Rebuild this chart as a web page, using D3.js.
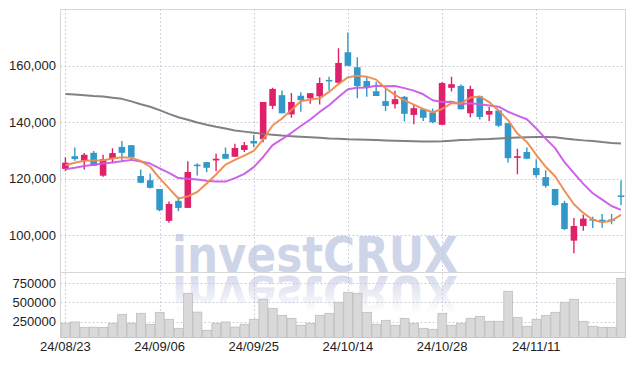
<!DOCTYPE html>
<html><head><meta charset="utf-8">
<script src="https://cdn.jsdelivr.net/npm/d3@7"></script>
<style>body{margin:0;background:#fff}svg{display:block}</style>
</head><body>
<svg id="c" width="634" height="366"></svg>
<script>
const dates = ["24/08/23","24/08/26","24/08/27","24/08/28","24/08/29","24/08/30","24/09/02","24/09/03","24/09/04","24/09/05",
"24/09/06","24/09/09","24/09/10","24/09/11","24/09/12","24/09/13","24/09/19","24/09/20","24/09/23","24/09/24",
"24/09/25","24/09/26","24/09/27","24/09/30","24/10/02","24/10/04","24/10/07","24/10/08","24/10/10","24/10/11",
"24/10/14","24/10/15","24/10/16","24/10/17","24/10/18","24/10/21","24/10/22","24/10/23","24/10/24","24/10/25",
"24/10/28","24/10/29","24/10/30","24/10/31","24/11/01","24/11/04","24/11/05","24/11/06","24/11/07","24/11/08",
"24/11/11","24/11/12","24/11/13","24/11/14","24/11/15","24/11/18","24/11/19","24/11/20","24/11/21","24/11/22"];
const tickDates = ["24/08/23","24/09/06","24/09/25","24/10/14","24/10/28","24/11/11"];
const priceTicks = [100000,120000,140000,160000];
const volumeTicks = [250000,500000,750000];

const open = [123500,128000,126400,129200,121100,127300,131300,131900,121000,119500,
116400,105100,112200,109700,125000,125900,126500,128800,127800,130200,
133400,134000,145800,149600,142800,149400,148500,149200,155000,154000,
164800,159500,154600,151000,147500,146400,149000,142600,144600,143500,
139100,152200,152900,143200,149200,142700,144200,139700,127400,129500,
123800,120600,116400,111400,98100,103300,105700,105500,105600,114100];
const high = [127600,131100,129100,129800,128500,130800,133400,131900,123300,121900,
116400,112000,113600,126200,125500,125900,128900,131100,132400,133000,
135500,147200,152200,151300,150400,150600,150300,155900,156100,166200,
171800,163000,156100,154300,152000,151200,149300,146300,144600,144900,
154300,156100,153400,152900,149300,145400,144200,139700,130600,131100,
126900,123000,116400,112200,106100,107300,106600,107500,107500,119500];
const low = [122700,126400,123300,124600,120700,125500,126300,126400,118400,116600,
108500,104400,108500,109700,121200,122300,122700,127100,127800,129500,
131200,132900,144700,143200,141600,143700,146600,146300,151300,153400,
160000,148500,149000,149300,144000,144900,140300,139300,140500,139700,
139000,150900,144600,141800,141000,140500,138300,125800,121600,127100,
120500,116800,110500,101900,93600,101600,102600,102700,103900,110600];
const close = [125700,127000,128500,124600,126900,129100,129200,127600,118600,116800,
108900,111100,109700,122400,124500,123900,127100,127100,130900,131900,
132500,147200,151800,143200,147200,147800,150300,153900,154600,161000,
160000,152800,152400,149300,145800,148200,143000,145000,141600,140000,
153900,153500,144600,151800,141900,144000,138800,127300,128000,127100,
121300,117500,110700,102200,103300,105900,105400,105100,105100,113600];
const volume = [229000,246000,177000,178000,176000,229000,346000,231000,359000,216000,
372000,281000,164000,620000,375000,138000,230000,246000,180000,216000,
281000,542000,424000,333000,294000,203000,229000,333000,359000,503000,
633000,620000,372000,216000,268000,203000,294000,229000,164000,151000,
359000,203000,229000,294000,320000,255000,255000,646000,307000,190000,
281000,333000,372000,503000,542000,255000,190000,177000,177000,815000];
const ma5 = [124800,125700,126400,126500,126540,127220,127660,127480,126280,124260,
120220,116600,113020,113780,115320,118320,121520,125000,126700,128180,
129900,133920,138860,141320,144380,147440,148060,148480,150760,153520,
155960,156460,156160,155100,152060,149700,147740,146260,144720,143560,
144700,146800,146720,148760,149140,147160,144220,140760,136000,133040,
128500,124240,120920,115760,111000,107920,105500,104580,105160,107220];
const ma10 = [123400,123900,124500,125000,125400,125800,126200,126700,126100,125400,
123720,122130,120250,120030,119790,119270,119060,119010,120240,121750,
124110,127720,131930,134010,136280,138670,140990,143670,146040,148950,
151700,152260,152320,152930,152790,152830,152100,151210,149910,147810,
147200,147270,146490,146740,146350,145930,145510,143740,142380,141090,
137830,134230,130840,125880,122020,118210,114870,112650,110360,109010];
const ma60 = [150000,149800,149600,149300,149100,148700,148300,147400,146400,145500,
144300,143000,141800,140900,139900,139100,138400,137800,137100,136700,
136300,135900,135600,135300,135100,134900,134700,134500,134300,134200,
134000,133900,133800,133700,133600,133500,133400,133300,133200,133200,
133300,133500,133700,133800,134000,134100,134300,134400,134600,134700,
134800,134800,134700,134300,133900,133600,133400,133000,132700,132500];

const UP = "#e0206a", DOWN = "#3298c9";
const left = 60.7, right = 625.7, pTop = 9.3, pBot = 272.3, vBot = 337.5;
const svg = d3.select("#c");
const x = d3.scaleBand().domain(dates).range([left, right]).padding(0);
const cx = d => x(d) + x.bandwidth() / 2;
const y = d3.scaleLinear().domain([86900, 180000]).range([pBot, pTop]);
const yv = d3.scaleLinear().domain([44300, 893000]).range([vBot, pBot]);

const defs = svg.append("defs");
const g1 = defs.append("linearGradient").attr("id","refl").attr("gradientUnits","userSpaceOnUse")
  .attr("x1",0).attr("x2",0).attr("y1",272).attr("y2",234);
g1.append("stop").attr("offset",0).attr("stop-color","#d3d8ea").attr("stop-opacity",0.9);
g1.append("stop").attr("offset",1).attr("stop-color","#d3d8ea").attr("stop-opacity",0.0);
defs.append("clipPath").attr("id","pclip").append("rect")
  .attr("x",left).attr("y",pTop).attr("width",right-left).attr("height",pBot-pTop);

// watermark with reflection
const wm = svg.append("g").attr("font-family","DejaVu Sans, Verdana, sans-serif").attr("font-weight","bold")
  .attr("font-size",50).attr("text-anchor","middle");
wm.append("text").attr("x",315).attr("y",272).attr("fill","#cfd5e9")
  .attr("textLength",286).attr("lengthAdjust","spacingAndGlyphs").text("investCRUX");
wm.append("text").attr("x",315).attr("y",272).attr("fill","url(#refl)")
  .attr("transform","translate(0,548) scale(1,-1)")
  .attr("textLength",286).attr("lengthAdjust","spacingAndGlyphs").text("investCRUX");

// gridlines
const grid = svg.append("g").attr("stroke","#c3c3d8").attr("stroke-width",1).attr("stroke-dasharray","1.5,2.5");
grid.selectAll(".hp").data(priceTicks).join("line")
  .attr("x1",left).attr("x2",right).attr("y1",d=>Math.round(y(d))+0.5).attr("y2",d=>Math.round(y(d))+0.5);
grid.selectAll(".hv").data(volumeTicks).join("line").attr("class","hv")
  .attr("x1",left).attr("x2",right).attr("y1",d=>Math.round(yv(d))+0.5).attr("y2",d=>Math.round(yv(d))+0.5);
grid.selectAll(".vv").data(tickDates).join("line").attr("class","vv")
  .attr("x1",d=>Math.round(cx(d))+0.5).attr("x2",d=>Math.round(cx(d))+0.5).attr("y1",pTop).attr("y2",vBot);

// frame
const fr = svg.append("g").attr("stroke","#d6d6d6").attr("stroke-width",1).attr("fill","none");
fr.append("line").attr("x1",left).attr("x2",right).attr("y1",9.5).attr("y2",9.5);
fr.append("line").attr("x1",left).attr("x2",right).attr("y1",272.5).attr("y2",272.5);
fr.append("line").attr("x1",60.5).attr("x2",60.5).attr("y1",9.5).attr("y2",vBot);
fr.append("line").attr("x1",625.5).attr("x2",625.5).attr("y1",9.5).attr("y2",vBot);

// volume bars
svg.append("g").selectAll("rect").data(dates).join("rect")
  .attr("x",d=>x(d)+0.5).attr("width",x.bandwidth()-0.6)
  .attr("y",(d,i)=>yv(volume[i])).attr("height",(d,i)=>vBot-yv(volume[i]))
  .attr("fill","#d9d9d9").attr("stroke","#bdbdbd").attr("stroke-width",0.8);

// candles
const cg = svg.append("g").attr("clip-path","url(#pclip)");
const bw = x.bandwidth()*0.7;
const col = i => close[i] >= open[i] ? UP : DOWN;
cg.selectAll(".w").data(dates).join("line")
  .attr("x1",d=>cx(d)).attr("x2",d=>cx(d))
  .attr("y1",(d,i)=>y(high[i])).attr("y2",(d,i)=>y(low[i]))
  .attr("stroke",(d,i)=>col(i)).attr("stroke-width",1.4);
cg.selectAll(".b").data(dates).join("rect")
  .attr("x",d=>cx(d)-bw/2).attr("width",bw)
  .attr("y",(d,i)=>Math.min(y(open[i]),y(close[i])))
  .attr("height",(d,i)=>Math.max(1.5,Math.abs(y(open[i])-y(close[i]))))
  .attr("fill",(d,i)=>col(i));

// MA lines
const line = arr => d3.line().x((d,i)=>cx(dates[i])).y(d=>y(d))(arr);
[[ma60,"#7a7a7a"],[ma10,"#c95be8"],[ma5,"#ee8a50"]].forEach(([a,c])=>{
  cg.append("path").attr("d",line(a)).attr("fill","none").attr("stroke",c)
    .attr("stroke-width",2).attr("stroke-linejoin","round").attr("opacity",0.95);
});

// axes
const fontF = "Liberation Sans, Arial, sans-serif";
const ay = svg.append("g").attr("transform","translate(56,0)")
  .call(d3.axisLeft(y).tickValues(priceTicks).tickSize(0).tickPadding(0).tickFormat(d3.format(",")));
const avy = svg.append("g").attr("transform","translate(56,0)")
  .call(d3.axisLeft(yv).tickValues(volumeTicks).tickSize(0).tickPadding(0).tickFormat(d3.format("d")));
const ax = svg.append("g").attr("transform","translate(0,342)")
  .call(d3.axisBottom(x).tickValues(tickDates).tickSize(0).tickPadding(0));
[ay,avy,ax].forEach(a=>{
  a.select(".domain").remove();
  a.selectAll("text").attr("font-family",fontF).attr("font-size",13).attr("fill","#222");
});
</script>
</body></html>
